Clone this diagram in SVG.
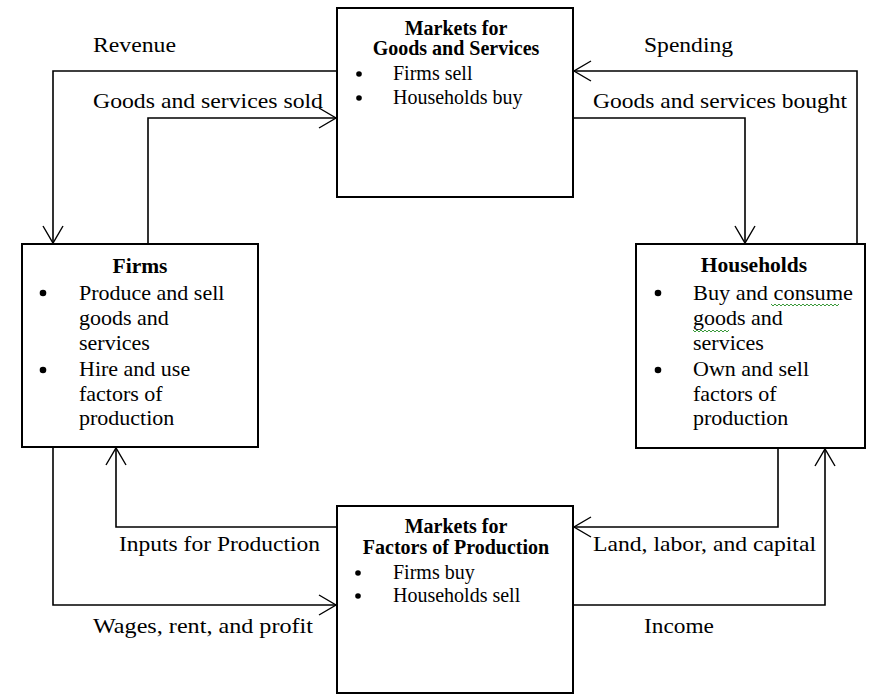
<svg xmlns="http://www.w3.org/2000/svg" width="870" height="697" viewBox="0 0 870 697">
<defs>
<marker id="arr" markerUnits="userSpaceOnUse" markerWidth="24" markerHeight="24" refX="0" refY="0" viewBox="-20 -12 22 24" orient="auto" overflow="visible">
<path d="M-17,-10 L0,0 L-17,10" fill="none" stroke="#000" stroke-width="1.4"/>
</marker>
<style>
.box{fill:#fff;stroke:#000;stroke-width:2}
.conn{fill:none;stroke:#000;stroke-width:1.6;marker-end:url(#arr)}
.t{font-family:"Liberation Serif","Times New Roman",serif;font-size:20px;fill:#000}
.ts{font-family:"Liberation Serif","Times New Roman",serif;font-size:22px;fill:#000}
.b{font-family:"Liberation Serif","Times New Roman",serif;font-size:20px;font-weight:bold;fill:#000;text-anchor:middle}
.bs{font-family:"Liberation Serif","Times New Roman",serif;font-size:21.5px;font-weight:bold;fill:#000;text-anchor:middle}
.lbl{font-family:"Liberation Serif","Times New Roman",serif;font-size:21px;fill:#000}
.dot{fill:#000}
.sq{fill:none;stroke:#3a9a3a;stroke-width:1}
</style>
</defs>
<rect width="870" height="697" fill="#fff"/>
<g id="connectors">
<path class="conn" d="M337,71 H53 V243"/>
<path class="conn" d="M148,244 V118 H336"/>
<path class="conn" d="M857,244 V71 H574"/>
<path class="conn" d="M573,118 H745 V243"/>
<path class="conn" d="M337,527 H116 V448"/>
<path class="conn" d="M53,447 V605 H336"/>
<path class="conn" d="M778,448 V527 H574"/>
<path class="conn" d="M573,605 H825 V449"/>
</g>
<g id="labels">
<text class="lbl" x="93" y="52" textLength="83" lengthAdjust="spacingAndGlyphs">Revenue</text>
<text class="lbl" x="93" y="108" textLength="230" lengthAdjust="spacingAndGlyphs">Goods and services sold</text>
<text class="lbl" x="644" y="52" textLength="89" lengthAdjust="spacingAndGlyphs">Spending</text>
<text class="lbl" x="593" y="108" textLength="254" lengthAdjust="spacingAndGlyphs">Goods and services bought</text>
<text class="lbl" x="119" y="551" textLength="201" lengthAdjust="spacingAndGlyphs">Inputs for Production</text>
<text class="lbl" x="593" y="551" textLength="223" lengthAdjust="spacingAndGlyphs">Land, labor, and capital</text>
<text class="lbl" x="93" y="633" textLength="220" lengthAdjust="spacingAndGlyphs">Wages, rent, and profit</text>
<text class="lbl" x="644" y="633" textLength="70" lengthAdjust="spacingAndGlyphs">Income</text>
</g>
<g id="goods-market">
<rect class="box" x="337" y="8" width="236" height="189"/>
<text class="b" x="456" y="35">Markets for</text>
<text class="b" x="456" y="55">Goods and Services</text>
<circle class="dot" cx="359" cy="74" r="2.8"/>
<text class="t" x="393" y="80">Firms sell</text>
<circle class="dot" cx="359" cy="98" r="2.8"/>
<text class="t" x="393" y="104">Households buy</text>
</g>
<g id="firms">
<rect class="box" x="22" y="244" width="236" height="203"/>
<text class="bs" x="140" y="273">Firms</text>
<circle class="dot" cx="43" cy="293" r="3.3"/>
<text class="ts" x="79" y="300">Produce and sell</text>
<text class="ts" x="79" y="325">goods and</text>
<text class="ts" x="79" y="350">services</text>
<circle class="dot" cx="43" cy="370" r="3.3"/>
<text class="ts" x="79" y="376">Hire and use</text>
<text class="ts" x="79" y="401">factors of</text>
<text class="ts" x="79" y="425">production</text>
</g>
<g id="households">
<rect class="box" x="636" y="244" width="229" height="204"/>
<text class="bs" x="754" y="272">Households</text>
<circle class="dot" cx="658" cy="293" r="3.3"/>
<text class="ts" x="693" y="300" textLength="160" lengthAdjust="spacingAndGlyphs">Buy and consume</text>
<path class="sq" d="M771,304 l2,2 l2,-2 l2,2 l2,-2 l2,2 l2,-2 l2,2 l2,-2 l2,2 l2,-2 l2,2 l2,-2 l2,2 l2,-2 l2,2 l2,-2 l2,2 l2,-2 l2,2 l2,-2 l2,2 l2,-2 l2,2 l2,-2 l2,2 l2,-2 l2,2 l2,-2 l2,2 l2,-2 l2,2 l2,-2 l2,2 l2,-2"/>
<text class="ts" x="693" y="325">goods and</text>
<path class="sq" d="M693,330 l2,2 l2,-2 l2,2 l2,-2 l2,2 l2,-2 l2,2 l2,-2 l2,2 l2,-2 l2,2 l2,-2 l2,2 l2,-2 l2,2 l2,-2 l2,2 l2,-2"/>
<text class="ts" x="693" y="350">services</text>
<circle class="dot" cx="658" cy="370" r="3.3"/>
<text class="ts" x="693" y="376">Own and sell</text>
<text class="ts" x="693" y="401">factors of</text>
<text class="ts" x="693" y="425">production</text>
</g>
<g id="factor-market">
<rect class="box" x="337" y="506" width="236" height="187"/>
<text class="b" x="456" y="533">Markets for</text>
<text class="b" x="456" y="554">Factors of Production</text>
<circle class="dot" cx="358" cy="573" r="2.8"/>
<text class="t" x="393" y="579">Firms buy</text>
<circle class="dot" cx="358" cy="596" r="2.8"/>
<text class="t" x="393" y="602">Households sell</text>
</g>
</svg>
